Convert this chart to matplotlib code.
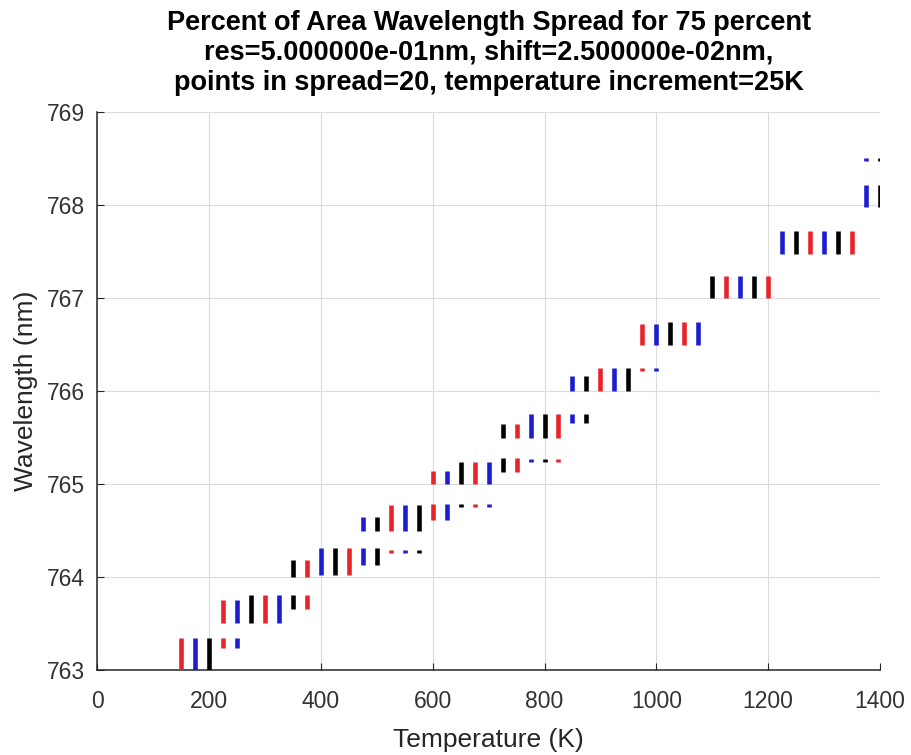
import numpy as np
import matplotlib
matplotlib.use("Agg")
import matplotlib.pyplot as plt

plt.rcParams['font.family'] = ['Liberation Sans', 'DejaVu Sans']

# Temperatures (K)
temperatures = list(range(150, 1401, 25))

# Main wavelength span (nm) per temperature
main_lo = [762.95, 762.95, 762.95, 763.51, 763.51, 763.51, 763.51, 763.51, 764.00, 764.00,
           764.02, 764.02, 764.02, 764.50, 764.50, 764.50, 764.50, 764.50, 765.00, 765.00,
           765.00, 765.00, 765.00, 765.49, 765.49, 765.49, 765.49, 765.49, 766.00, 766.00,
           766.00, 766.00, 766.00, 766.49, 766.49, 766.49, 766.49, 766.49, 767.00, 767.00,
           767.00, 767.00, 767.00, 767.47, 767.47, 767.47, 767.47, 767.47, 767.47, 767.98,
           767.98]
main_hi = [763.34, 763.34, 763.34, 763.75, 763.75, 763.81, 763.81, 763.81, 764.18, 764.18,
           764.31, 764.31, 764.31, 764.65, 764.65, 764.77, 764.77, 764.77, 765.14, 765.14,
           765.24, 765.24, 765.24, 765.65, 765.65, 765.75, 765.75, 765.75, 766.16, 766.16,
           766.25, 766.25, 766.25, 766.72, 766.72, 766.74, 766.74, 766.74, 767.24, 767.24,
           767.24, 767.24, 767.24, 767.72, 767.72, 767.72, 767.72, 767.72, 767.72, 768.21,
           768.21]

# Secondary wavelength span (nm) per temperature (nan = none)
nan = np.nan
second_lo = [nan, nan, nan, 763.24, 763.24, nan, nan, nan, 763.66, 763.66,
             nan, nan, nan, 764.13, 764.13, 764.26, 764.26, 764.26, 764.61, 764.61,
             764.75, 764.75, 764.75, 765.13, 765.13, 765.24, 765.24, 765.24, 765.66, 765.66,
             nan, nan, nan, 766.22, 766.22, nan, nan, nan, nan, nan,
             nan, nan, nan, nan, nan, nan, nan, nan, nan, 768.47,
             768.47]
second_hi = [nan, nan, nan, 763.34, 763.34, nan, nan, nan, 763.81, 763.81,
             nan, nan, nan, 764.31, 764.31, 764.29, 764.29, 764.29, 764.79, 764.79,
             764.78, 764.78, 764.78, 765.28, 765.28, 765.27, 765.27, 765.27, 765.75, 765.75,
             nan, nan, nan, 766.25, 766.25, nan, nan, nan, nan, nan,
             nan, nan, nan, nan, nan, nan, nan, nan, nan, 768.50,
             768.50]

color_cycle = ['#e8232a', '#1c1cd0', '#000000']

title_lines = ["Percent of Area Wavelength Spread for 75 percent",
               "res=5.000000e-01nm, shift=2.500000e-02nm,",
               "points in spread=20, temperature increment=25K"]
x_ticks = [0, 200, 400, 600, 800, 1000, 1200, 1400]
y_ticks = [763, 764, 765, 766, 767, 768, 769]

fig = plt.figure(figsize=(9.11, 7.55), dpi=100)
ax = fig.add_axes([0.1068, 0.1125, 0.8591, 0.7392])

colors = [color_cycle[i % 3] for i in range(len(temperatures))]
ax.vlines(temperatures, main_lo, main_hi, colors=colors, linewidth=3.3,
          capstyle='butt', zorder=3)
ax.vlines(temperatures, second_lo, second_hi, colors=colors, linewidth=3.3,
          capstyle='butt', zorder=3)

ax.set_xlim(0, 1400)
ax.set_ylim(763, 769)
ax.set_xticks(x_ticks)
ax.set_yticks(y_ticks)
ax.grid(True, color='#dcdcdc', linewidth=0.8)
ax.set_axisbelow(True)
for s in ['top', 'right']:
    ax.spines[s].set_visible(False)
for s in ['left', 'bottom']:
    ax.spines[s].set_color('#262626')
    ax.spines[s].set_linewidth(1.1)
ax.tick_params(direction='in', length=5, width=0.8, colors='#262626',
               labelsize=16.5)
ax.tick_params(axis='x', pad=14)
ax.tick_params(axis='y', pad=9)
for lab in ax.get_xticklabels() + ax.get_yticklabels():
    lab.set_color('#333333')

ax.set_xlabel("Temperature (K)", fontsize=19, color='#262626', labelpad=11)
ax.set_ylabel("Wavelength (nm)", fontsize=19, color='#262626', labelpad=6)
ax.set_title("\n".join(title_lines), fontsize=19.5, fontweight='bold',
             linespacing=1.2, pad=16)

fig.savefig("out.png", dpi=100)
